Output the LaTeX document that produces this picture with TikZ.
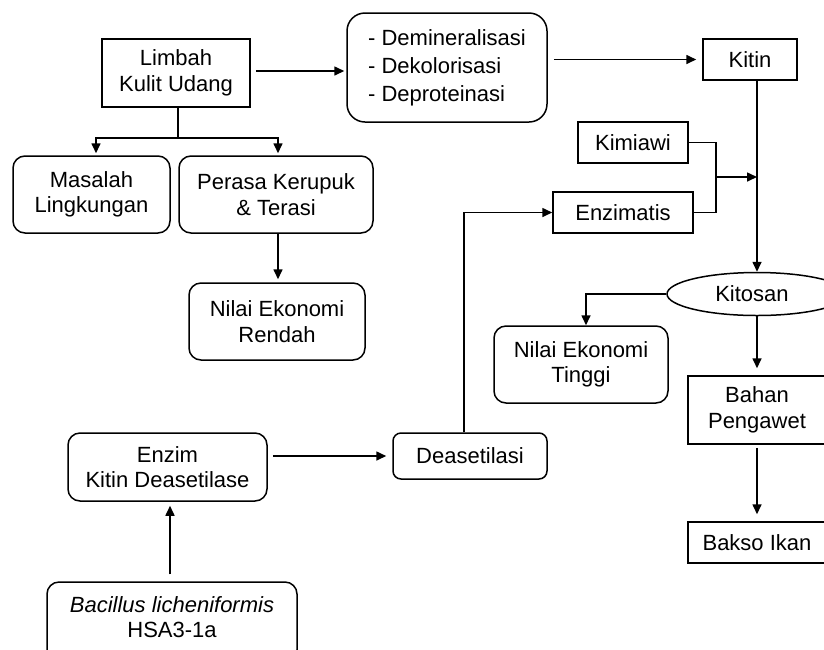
\documentclass[tikz,border=0pt]{standalone}
\usepackage{fontspec}
\setmainfont{Liberation Sans}
\usetikzlibrary{arrows.meta,shapes.geometric}
\begin{document}
\begin{tikzpicture}[x=1pt,y=-1pt,
  every node/.style={font=\fontsize{22}{25.5}\selectfont, align=center, inner sep=0pt, line width=1.5pt},
  sqbox/.style={draw, rectangle, minimum width=#1},
  rbox/.style={draw, rectangle, rounded corners=12pt, minimum width=#1},
  conn/.style={line width=1.6pt},
  arr/.style={conn, -{Triangle[length=10pt,width=9pt]}}
]
\useasboundingbox (0,0) rectangle (824,649);
\clip (0,0) rectangle (824,649);
% nodes
\node[sqbox=148, minimum height=68] (limbah) at (176,73) {Limbah\\Kulit Udang};
\node[rbox=200, minimum height=109, rounded corners=18pt, align=left, font=\fontsize{22}{28}\selectfont] (demin) at (447,67.5) {- Demineralisasi\\- Dekolorisasi\\- Deproteinasi};
\node[sqbox=94, minimum height=41] (kitin) at (750,59.5) {Kitin};
\node[sqbox=110, minimum height=41] (kimiawi) at (633,142.5) {Kimiawi};
\node[sqbox=140, minimum height=41] (enzimatis) at (623,212.5) {Enzimatis};
\node[draw, ellipse, minimum width=180, minimum height=43] (kitosan) at (757,294) {\hspace*{-10pt}Kitosan};
\node[rbox=174, minimum height=77] (net) at (581,364.5) {Nilai Ekonomi\\Tinggi};
\node[sqbox=138, minimum height=68] (bahan) at (757,410) {Bahan\\Pengawet};
\node[sqbox=138, minimum height=41] (bakso) at (757,542.5) {Bakso Ikan};
\node[rbox=157, minimum height=77] (masalah) at (91.5,194.5) {Masalah\\Lingkungan};
\node[rbox=194, minimum height=77] (perasa) at (276,194.5) {Perasa Kerupuk\\\& Terasi};
\node[rbox=176, minimum height=77] (ner) at (277,321.5) {Nilai Ekonomi\\Rendah};
\node[rbox=199, minimum height=68] (enzim) at (167.5,467) {Enzim\\Kitin Deasetilase};
\node[rbox=154, minimum height=46, rounded corners=8pt] (deas) at (470,456) {Deasetilasi};
\node[rbox=250, minimum height=80, text depth=10pt] (bacillus) at (172,622) {\textit{Bacillus licheniformis}\\HSA3-1a};
% helper coordinates
\coordinate (fork) at (178,138);
\coordinate (j) at (716,177);
% connectors
\draw[arr, shorten <=5pt, shorten >=2pt] (limbah.east |- 0,71) -- (demin.west |- 0,71);
\draw[arr, shorten <=6pt, shorten >=6pt] (demin.east |- kitin) -- (kitin.west);
\draw[arr] (kitosan |- kitin.south) -- (kitosan.north);
\draw[conn] (kimiawi.east) -| (j) |- (enzimatis.east);
\draw[arr] (j) -- (j -| kitosan);
\draw[arr] ([xshift=-6pt]deas.north) |- (enzimatis.west);
\draw[arr] (kitosan.west) -| ([xshift=5pt]net.north);
\draw[arr, shorten >=7pt] (kitosan.south) -- (bahan.north);
\draw[arr, shorten <=3pt, shorten >=7pt] (bahan.south) -- (bakso.north);
\draw[conn] (limbah.south -| fork) -- (fork);
\draw[arr, shorten >=2pt] (fork) -| (masalah.north -| 96,0);
\draw[arr, shorten >=2pt] (fork) -| (perasa.north -| 278,0);
\draw[arr, shorten >=3pt] (perasa.south -| 278,0) -- (ner.north -| 278,0);
\draw[arr, shorten <=5pt, shorten >=6pt] (enzim.east |- deas) -- (deas.west);
\draw[arr, shorten <=7pt, shorten >=4pt] (bacillus.north -| 170,0) -- (enzim.south -| 170,0);
\end{tikzpicture}
\end{document}
